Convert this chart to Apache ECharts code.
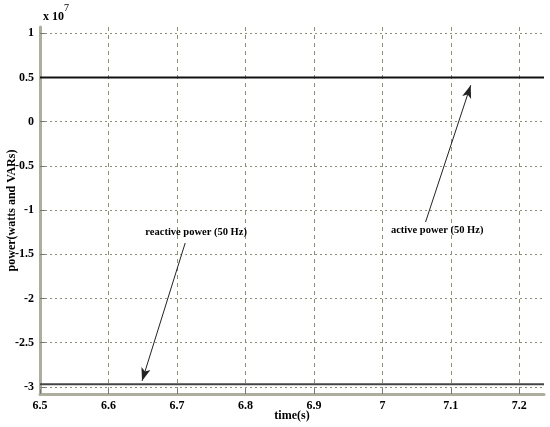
<!DOCTYPE html>
<html>
<head>
<meta charset="utf-8">
<script src="https://cdn.jsdelivr.net/npm/echarts@6/dist/echarts.min.js"></script>
<style>html,body{margin:0;padding:0;background:#fff;}#c{width:550px;height:427px;}</style>
</head>
<body>
<div id="c"></div>
<script>
// time (s)
const time = [6.5, 7.236];
// power in units of 1e7 (watts / VARs)
const activePower = [0.5, 0.5];
const reactivePower = [-2.97, -2.97];
// tick values
const xTicks = [6.5, 6.6, 6.7, 6.8, 6.9, 7.0, 7.1, 7.2];
const yTicks = [-3, -2.5, -2, -1.5, -1, -0.5, 0, 0.5, 1];
// annotation arrows [start, tip] in data units
const activeArrow = [[7.063, -1.136], [7.129, 0.412]];
const reactiveArrow = [[6.712, -1.373], [6.649, -2.932]];
const activeLabelPos = [7.080, -1.226];
const reactiveLabelPos = [6.728, -1.249];
const activeLabel = 'active power (50 Hz)';
const reactiveLabel = 'reactive power (50 Hz)';

const font = 'Liberation Serif';
const chart = echarts.init(document.getElementById('c'));
const axisCol = '#aeae9c';
const gridCol = '#8f8f78';

function pairs(xs, ys){ return xs.map((x,i)=>[x, ys[i]]); }
const fmt = v => (Math.round(v*10)/10).toString();

chart.setOption({
  animation: false,
  backgroundColor: '#fff',
  grid: {left: 40, right: 6, top: 27, bottom: 33, containLabel: false, outerBoundsMode: 'none'},
  graphic: [{
    type: 'text', left: 43, top: 3,
    style: {
      text: '{a|x 10}{s|7}',
      rich: {
        a: {fontFamily: font, fontWeight: 'bold', fontSize: 12, fill: '#000', padding: [8,0,0,0]},
        s: {fontFamily: font, fontSize: 10, fill: '#000', verticalAlign: 'top'}
      }
    }
  }],
  xAxis: {
    type: 'value', min: 6.5, max: 7.236,
    name: 'time(s)', nameLocation: 'middle', nameGap: 16, nameMoveOverlap: false,
    nameTextStyle: {fontFamily: font, fontWeight: 'bold', fontSize: 12, color: '#000'},
    axisLine: {show: true, onZero: false, lineStyle: {color: axisCol, width: 3}},
    axisTick: {show: true, inside: true, length: 5, customValues: xTicks, lineStyle: {color: '#777'}},
    axisLabel: {fontFamily: font, fontWeight: 'bold', fontSize: 12, color: '#000', margin: 6,
      customValues: xTicks, formatter: fmt},
    splitLine: {show: true, lineStyle: {color: gridCol, type: [4,4], width: 1}}
  },
  yAxis: {
    type: 'value', min: -3.08, max: 1.07,
    name: 'power(watts and VARs)', nameLocation: 'middle', nameGap: 22, nameMoveOverlap: false,
    nameTextStyle: {fontFamily: font, fontWeight: 'bold', fontSize: 12, color: '#000'},
    axisLine: {show: true, onZero: false, lineStyle: {color: axisCol, width: 3}},
    axisTick: {show: true, inside: true, length: 5, customValues: yTicks, lineStyle: {color: '#777'}},
    axisLabel: {fontFamily: font, fontWeight: 'bold', fontSize: 12, color: '#000', margin: 6,
      customValues: yTicks, formatter: fmt},
    splitLine: {show: true, lineStyle: {color: gridCol, type: [2,3], width: 1}}
  },
  series: [
    {
      name: 'active power', type: 'line', data: pairs(time, activePower),
      symbol: 'none', lineStyle: {color: '#111', width: 2},
      markLine: {
        silent: true, symbol: ['none', 'arrow'], symbolSize: [7, 13],
        lineStyle: {color: '#222', width: 1, type: 'solid'}, label: {show: false},
        data: [[{coord: activeArrow[0]}, {coord: activeArrow[1]}]]
      },
      markPoint: {
        silent: true, symbol: 'circle', symbolSize: 0,
        label: {show: true, position: 'inside', formatter: activeLabel,
          fontFamily: font, fontWeight: 'bold', fontSize: 10.5, color: '#000'},
        data: [{coord: activeLabelPos}]
      }
    },
    {
      name: 'reactive power', type: 'line', data: pairs(time, reactivePower),
      symbol: 'none', lineStyle: {color: '#444', width: 2},
      markLine: {
        silent: true, symbol: ['none', 'arrow'], symbolSize: [7, 13],
        lineStyle: {color: '#222', width: 1, type: 'solid'}, label: {show: false},
        data: [[{coord: reactiveArrow[0]}, {coord: reactiveArrow[1]}]]
      },
      markPoint: {
        silent: true, symbol: 'circle', symbolSize: 0,
        label: {show: true, position: 'inside', formatter: reactiveLabel,
          fontFamily: font, fontWeight: 'bold', fontSize: 10.5, color: '#000'},
        data: [{coord: reactiveLabelPos}]
      }
    }
  ]
});
</script>
</body>
</html>
